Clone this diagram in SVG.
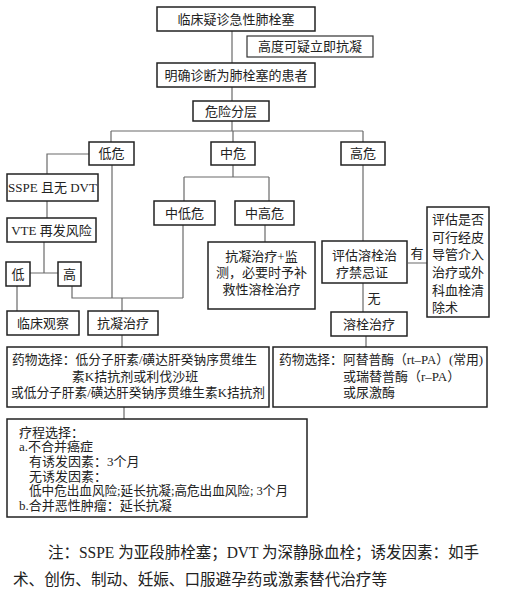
<svg xmlns="http://www.w3.org/2000/svg" width="507" height="595" viewBox="0 0 507 595">
<style>
.b{fill:#fff;stroke:#222;stroke-width:1.5}
.b2{fill:#fff;stroke:#333;stroke-width:1.2}
.c{fill:none;stroke:#6a6a6a;stroke-width:1.2}
text{font-family:"Liberation Serif","Noto Sans CJK SC",serif;font-size:13px;fill:#222;dominant-baseline:central}
.m{text-anchor:middle}
.n{font-size:16px}
</style>
<rect width="507" height="595" fill="#fff"/>
<g id="connectors">
<path class="c" d="M232 31V63M232 87V101M232 121V131M111 131H363M111 131V142M233 131V142M363 131V142"/>
<path class="c" d="M89 154H47V174M47 201V218M44 242V273M30 273H58M17 286V311M72 286V298H183M112 165V298M122 298V311M183 225V298"/>
<path class="c" d="M233 165V177M184 177H269M184 177V201M269 177V201M265 225V242"/>
<path class="c" d="M363 165V241M408 263H427M363 283V312M366 336V347M122 335V347M124 407V419"/>
</g>
<g id="n1"><rect class="b" x="157" y="7" width="158" height="24"/><text class="m" x="236" y="19">临床疑诊急性肺栓塞</text></g>
<g id="n2"><rect class="b2" x="247" y="36" width="126" height="21"/><text class="m" x="310" y="46.5">高度可疑立即抗凝</text></g>
<g id="n3"><rect class="b" x="157" y="63" width="158" height="24"/><text class="m" x="236" y="75">明确诊断为肺栓塞的患者</text></g>
<g id="n4"><rect class="b" x="193" y="101" width="76" height="20"/><text class="m" x="231" y="111">危险分层</text></g>
<g id="n5"><rect class="b" x="89" y="142" width="45" height="23"/><text class="m" x="111.5" y="153.5">低危</text></g>
<g id="n6"><rect class="b" x="211" y="142" width="44" height="23"/><text class="m" x="233" y="153.5">中危</text></g>
<g id="n7"><rect class="b" x="341" y="142" width="44" height="23"/><text class="m" x="363" y="153.5">高危</text></g>
<g id="n8"><rect class="b" x="7" y="174" width="91" height="27"/><text class="m" x="52.5" y="187.5">SSPE 且无 DVT</text></g>
<g id="n9"><rect class="b" x="7" y="218" width="89" height="24"/><text class="m" x="51.5" y="230">VTE 再发风险</text></g>
<g id="n10"><rect class="b" x="6" y="262" width="24" height="24"/><text class="m" x="18" y="274">低</text></g>
<g id="n11"><rect class="b" x="58" y="262" width="23" height="24"/><text class="m" x="69.5" y="274">高</text></g>
<g id="n12"><rect class="b" x="154" y="201" width="61" height="24"/><text class="m" x="184.5" y="213">中低危</text></g>
<g id="n13"><rect class="b" x="235" y="201" width="59" height="24"/><text class="m" x="264.5" y="213">中高危</text></g>
<g id="n14"><rect class="b" x="208" y="242" width="107" height="67"/><text class="m" x="261.5" y="256">抗凝治疗+监</text><text class="m" x="261.5" y="272.5">测，必要时予补</text><text class="m" x="261.5" y="289">救性溶栓治疗</text></g>
<g id="n15"><rect class="b" x="322" y="241" width="85" height="42"/><text class="m" x="364.5" y="255">评估溶栓治</text><text class="m" x="362" y="272">疗禁忌证</text></g>
<g id="n16"><rect class="b" x="427" y="207" width="62" height="110"/>
<text x="432" y="219">评估是否</text><text x="432" y="237">可行经皮</text><text x="432" y="254">导管介入</text><text x="432" y="272">治疗或外</text><text x="432" y="290">科血栓清</text><text x="432" y="307">除术</text></g>
<text class="m" x="417" y="253">有</text>
<text class="m" x="374" y="298">无</text>
<g id="n17"><rect class="b" x="331" y="312" width="76" height="24"/><text class="m" x="369" y="324">溶栓治疗</text></g>
<g id="n18"><rect class="b" x="7" y="311" width="72" height="24"/><text class="m" x="43" y="323">临床观察</text></g>
<g id="n19"><rect class="b" x="88" y="311" width="70" height="24"/><text class="m" x="123" y="323">抗凝治疗</text></g>
<g id="n20"><rect class="b" x="7" y="347" width="262" height="60"/>
<text x="12" y="359" textLength="245" lengthAdjust="spacingAndGlyphs">药物选择：低分子肝素/磺达肝癸钠序贯维生</text>
<text class="m" x="135" y="376">素K拮抗剂或利伐沙班</text>
<text x="11" y="392" textLength="254" lengthAdjust="spacingAndGlyphs">或低分子肝素/磺达肝癸钠序贯维生素K拮抗剂</text></g>
<g id="n21"><rect class="b" x="273" y="347" width="214" height="60"/>
<text x="279" y="359" textLength="204" lengthAdjust="spacingAndGlyphs">药物选择：阿替普酶（rt–PA）(常用)</text>
<text x="343" y="376">或瑞替普酶（r–PA）</text>
<text x="343" y="392">或尿激酶</text></g>
<g id="n22"><rect class="b" x="7" y="419" width="300" height="98"/>
<text x="19" y="432">疗程选择：</text>
<text x="19" y="446">a.不合并癌症</text>
<text x="29" y="461">有诱发因素：3个月</text>
<text x="29" y="476">无诱发因素：</text>
<text x="29" y="490" textLength="259" lengthAdjust="spacingAndGlyphs">低中危出血风险;延长抗凝;高危出血风险; 3个月</text>
<text x="19" y="505">b.合并恶性肿瘤：延长抗凝</text></g>
<text class="n" x="48" y="552" textLength="431" lengthAdjust="spacingAndGlyphs">注：SSPE 为亚段肺栓塞；DVT 为深静脉血栓；诱发因素：如手</text>
<text class="n" x="13" y="579" textLength="374" lengthAdjust="spacingAndGlyphs">术、创伤、制动、妊娠、口服避孕药或激素替代治疗等</text>
</svg>
